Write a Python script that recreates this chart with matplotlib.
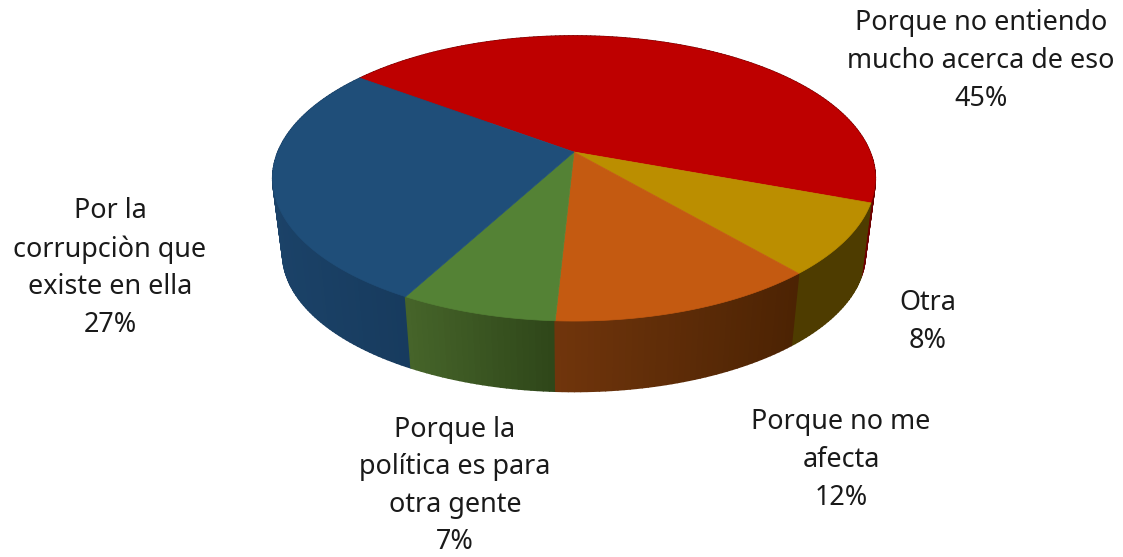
import numpy as np
import matplotlib
matplotlib.use("Agg")
import matplotlib.pyplot as plt
from matplotlib.patches import Polygon

categories = ["Porque no entiendo\nmucho acerca de eso", "Otra", "Porque no me\nafecta",
              "Porque la\npolítica es para\notra gente", "Por la\ncorrupciòn que\nexiste en ella"]
values = [45, 8, 12, 7, 27]
top_colors = ["#BE0000", "#BB8E00", "#C45A11", "#548235", "#1F4E79"]
wall_left = ["#6E0000", "#4E3C00", "#70350C", "#46652A", "#1B4268"]
wall_right = ["#6E0000", "#4E3C00", "#4C2303", "#2F4619", "#173B5E"]
label_pos = [(981, 61), (928, 322), (841, 460), (455, 486), (110, 268)]

START = 143.4
CX, CY = 574.0, 152.0
A, B, C = 137.6, 0.186, 296.0
SCALE_BOT, CY_BOT = 0.967, 228.0


def project(theta, cy=CY, k=1.0):
    u, v = np.cos(theta), np.sin(theta)
    w = 1 + B * v
    return CX + k * C * u / w, cy - k * A * v / w


def mix(c1, c2, t):
    a, b = np.array(matplotlib.colors.to_rgb(c1)), np.array(matplotlib.colors.to_rgb(c2))
    return tuple(a + (b - a) * t)


fig = plt.figure(figsize=(11.23, 5.57), dpi=100)
ax = fig.add_axes([0, 0, 1, 1])
ax.set_xlim(0, 1123)
ax.set_ylim(557, 0)
ax.axis("off")

spans = np.array(values) / sum(values) * 2 * np.pi
ends = np.radians(START) - np.cumsum(spans)
starts = ends + spans

# walls: strips painted back to front, wide enough to avoid moire seams
strips = []
for i in range(len(values)):
    th = np.linspace(starts[i], ends[i], max(int(np.degrees(spans[i])), 2) + 1)
    x = project(th)[0]
    front = np.sin(th) < 0.25
    xmin, xmax = x[front].min() if front.any() else x.min(), x[front].max() if front.any() else x.max()
    for a, b in zip(th[:-1], th[1:]):
        xa, ya = project(a)
        xb, yb = project(b)
        xc, yc = project(b, CY_BOT, SCALE_BOT)
        xd, yd = project(a, CY_BOT, SCALE_BOT)
        t = np.clip(((xa + xb) / 2 - xmin) / max(xmax - xmin, 1), 0, 1)
        strips.append((-np.sin((a + b) / 2), [(xa, ya), (xb, yb), (xc, yc), (xd, yd)],
                       mix(wall_left[i], wall_right[i], t)))
for _, pts, col in sorted(strips, key=lambda s: s[0]):
    ax.add_patch(Polygon(pts, closed=True, fc=col, ec=col, lw=1.2, joinstyle="round"))

# top face
for i in range(len(values)):
    th = np.linspace(starts[i], ends[i], 200)
    xs, ys = project(th)
    pts = np.column_stack([np.r_[CX, xs], np.r_[CY, ys]])
    ax.add_patch(Polygon(pts, closed=True, fc=top_colors[i], ec=top_colors[i], lw=0.5))

for cat, val, (lx, ly) in zip(categories, values, label_pos):
    ax.text(lx, ly, f"{cat}\n{val}%", ha="center", va="center", fontsize=19.4,
            family="Noto Sans", color="#1a1a1a", linespacing=1.455)

fig.savefig("out.png", dpi=100, facecolor="white")
